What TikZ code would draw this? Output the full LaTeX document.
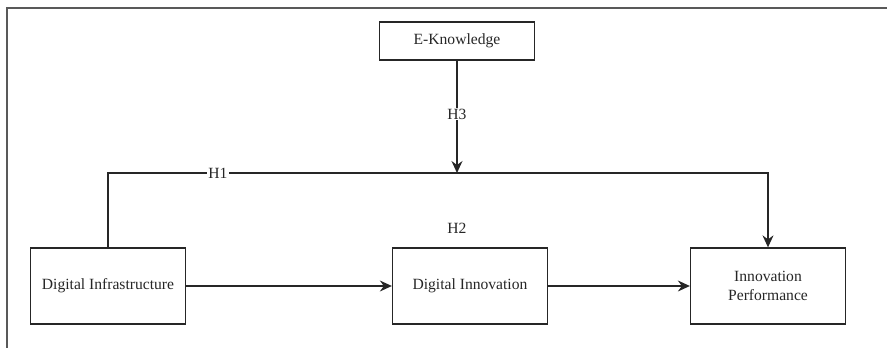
\documentclass[tikz,border=0pt]{standalone}
\usepackage{fontspec}
\setmainfont{Liberation Serif}
\usetikzlibrary{arrows.meta}
\begin{document}
\begin{tikzpicture}[x=1pt,y=-1pt,
  boxnode/.style={draw=black!85,line width=1.3pt,minimum width=155pt,minimum height=76pt,inner sep=0pt,align=center,font=\fontsize{15.6}{19}\selectfont,text=black!85},
  topbox/.style={boxnode,minimum height=38pt},
  lbl/.style={fill=white,inner sep=1pt,font=\fontsize{15.6}{18}\selectfont,text=black!85},
  conn/.style={draw=black!85,line width=1.3pt},
  arr/.style={conn,-{Stealth[length=12pt,width=11pt,inset=4pt]}},
  frameline/.style={draw=black!65,line width=1.2pt}]
\useasboundingbox (0,0) rectangle (887,348);
\coordinate (f0) at (7,8);
\coordinate (f1) at (887,8);
\coordinate (f2) at (7,348);
\draw[frameline] (f1) -- (f0) -- (f2);
\node[topbox] (ek) at (457,41) {E-Knowledge};
\node[boxnode] (di) at (108,286) {Digital Infrastructure};
\node[boxnode] (dn) at (470,286) {Digital Innovation};
\node[boxnode] (ip) at (768,286) {Innovation\\Performance};
\coordinate (j) at (457,173);
\draw[arr] (di.north) |- (j) -| (ip.north);
\draw[arr] (ek.south) -- (j);
\draw[arr] (di.east) -- (dn.west);
\draw[arr] (dn.east) -- (ip.west);
\node[lbl] (h1) at (218,173) {H1};
\node[lbl] (h3) at (457,114) {H3};
\node[lbl] (h2) at (457,228) {H2};
\end{tikzpicture}
\end{document}
